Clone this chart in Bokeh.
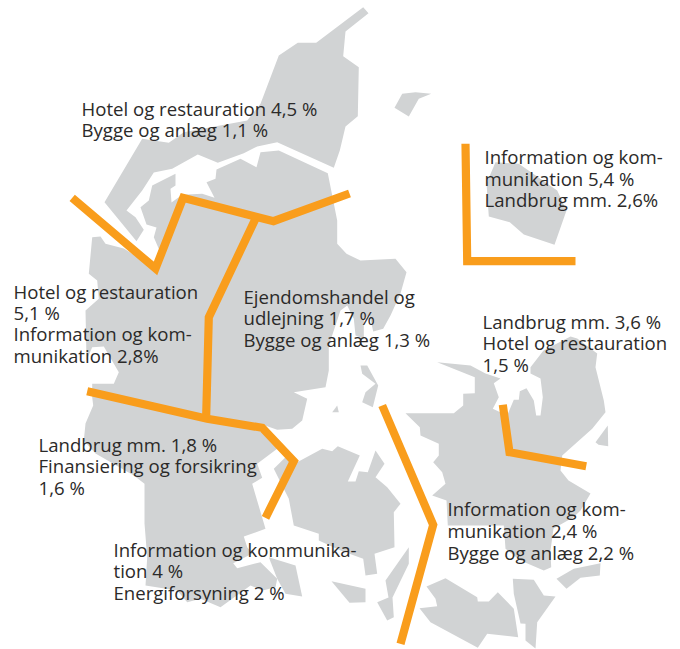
from bokeh.plotting import figure
from bokeh.embed import file_html
from bokeh.resources import INLINE
from bokeh.core.properties import value

# Map outlines (x, y of the traced coast)
vendsyssel = [(362.7,6.7),(368,12.7),(345,31),(342.7,55.7),(358.3,66.7),(357.3,115.7),(345,126),(339.3,150),(333.3,167.3),(276.7,141.7),(256.7,146),(243.3,152.7),(217.3,162.3),(197.3,154),(171.7,168.3),(153.3,172),(141.7,190),(126,210),(135,216.7),(143.3,229.3),(136,240.7),(104,201.7),(141.7,138.3),(168.3,142.3),(183.3,131.7),(246.7,120),(260,103.3),(278.3,55),(297.3,42.3),(315.7,42.3)]
jutland = [(260,151.7),(278.3,150),(327.3,172.7),(336.7,220),(336.7,243.3),(346,253.3),(360,260),(395,258.3),(406,271.7),(400,293),(390,315),(382.7,328.3),(372.7,331),(369.3,315),(363.3,317.3),(363.3,338.3),(355,335),(353.3,318.3),(346.7,305),(340,310),(333.3,330),(328.3,345),(328.3,370),(325,386.7),(293.3,391.7),(306.7,398.3),(301.7,420),(291.7,428.3),(276.7,429.3),(261.7,424),(285,450),(276.7,448.3),(256.7,463.3),(261.7,477.3),(251.7,483.3),(265,528.3),(243.3,536),(246.7,546.7),(252,553),(232.7,562.7),(236.7,567.7),(260,561.7),(276.7,578.3),(275,586.7),(262,590),(250,585),(220,606.7),(200,598.3),(186.7,601.7),(176.7,590),(145,585),(146.7,556.7),(144,523),(144,483.3),(133.3,475),(95,453),(83.3,440),(85,423),(92.7,405),(91.7,396.7),(91.7,383.3),(113.3,383.3),(118.3,371.7),(103.3,346),(91.7,346.7),(86,360),(85,310),(98.3,298.3),(96.7,280),(88.3,273.3),(91.7,236.7),(100,236),(105,243.3),(123.3,248),(155,268),(159,250),(153.3,236.7),(156,227),(146,224),(140,206.7),(148.3,200),(151.7,185),(175,173.3),(175,185),(170,188.3),(171,202),(181.7,194.3),(201.7,193.3),(214,197.3),(206,181.7),(215,178.3),(216,169),(240,158.3),(256,166.7)]
fyn = [(273.3,468.3),(285,456.7),(296.7,461.7),(321.7,448.3),(331.7,450.7),(337.3,445.7),(359.3,455),(347.3,481),(355,481),(358.3,470.7),(367.3,471.7),(375,450),(384,463.3),(375,476.7),(386.7,486.7),(400,503.3),(393.3,511.7),(394,546.7),(374,553.3),(376.7,573.3),(365,575),(362.7,558.3),(340,550),(318.3,540),(318.3,533.3),(293.3,525),(288.3,498.3)]
langeland = [(385,580),(408.3,546.7),(408.3,563.3),(392,597),(393.3,616.7),(386.7,620),(376.7,601.7),(388,597)]
aeroe = [(331,580.7),(365,588.3),(365,601.7),(349,602.3)]
als = [(268.3,556.7),(295,565),(301.7,596),(285,593.3),(276.7,578.3)]
samsoe = [(360,365),(366.7,365),(377.7,385),(372.3,406.7),(361.7,401.7),(365,391.7),(375,383.3),(361.7,373.3)]
tuno = [(336.7,405),(331.7,411.7),(338.3,411.7)]
zealand = [(405,412.7),(453.3,412.7),(462.7,405),(462.7,393.3),(474.3,392.7),(474.3,376.7),(436.7,361.7),(470,365),(485,373),(500,378),(493.3,382.7),(498.3,396.7),(492.3,408.3),(506.7,415),(513.3,399.3),(518.3,399.3),(519.3,390.7),(526,387.7),(533.3,400),(535.7,415),(540,415),(542.3,396.7),(540,378),(530,373),(530,366.7),(543,350),(570,336),(576.7,338),(596.7,353),(595,366.7),(603.3,400),(605,411.7),(591.7,428.3),(561.7,455),(560,470),(568,480),(590,493),(580,510),(573,516.7),(553,528),(550,550),(550.7,566.7),(543.3,570),(520,560),(505,548.3),(503.3,525),(447.3,525),(446,500),(431.7,495),(445,483.3),(441.7,471.7),(432.7,461.7),(438.3,455),(438.3,443.3),(420,435),(419.3,426.7)]
amager = [(607.3,425),(595,441.7),(598,444.3),(607.7,445.7)]
lolland = [(426,586),(445,577.7),(476.7,596.7),(477.3,601),(488.3,601),(497.3,591.7),(513.3,608.3),(517.7,636.7),(486.7,633.3),(477.3,647.3),(430,621.7),(419,607.7),(436.7,605.7),(435,598.3)]
falster = [(512.3,578.3),(533.3,579.3),(543.3,595),(555,596),(536.7,621.7),(535,648),(525,640),(525,623.3),(520,623),(513.3,593.3)]
moen = [(556,578.3),(573.3,568.3),(600,562.7),(599.3,575),(580,577.3),(566,588.3)]
bornholm = [(495,161.7),(518.3,163.3),(556.7,190),(566,210),(554,244.3),(523.3,234),(509.3,221.7),(488.3,216),(486,183)]
laesoe = [(401.7,93.3),(415,91.7),(430.7,93.3),(418.3,98.3),(408.3,116),(394,107.3)]
land = [vendsyssel, jutland, fyn, langeland, aeroe, als, samsoe, tuno, zealand, amager, lolland, falster, moen, bornholm, laesoe]

# Region boundaries
boundaries = [
    [(71.7,197.3),(155,268),(182.7,197.3),(273,220.7),(349,193)],
    [(255,218.3),(208.3,316.7),(205.7,415)],
    [(86.7,390.7),(206.7,418.3),(261.7,427.3),(293.3,460.7),(265,517.3)],
    [(465,143.3),(466.7,260.7),(575,260.7)],
    [(502.3,404.3),(509,451.7),(585.7,465.7)],
    [(381.7,405),(432.7,524.3),(400,643.3)],
]

# Labels: x, baseline y, text
labels = [
    (82,115,"Hotel og restauration  4,5 %"),(82,136,"Bygge og anlæg 1,1 %"),
    (485,163,"Information og kom-"),(485,185,"munikation  5,4 %"),(485,206,"Landbrug mm. 2,6%"),
    (14,298,"Hotel og restauration"),(14,319,"5,1 %"),(14,340,"Information og kom-"),(14,362,"munikation 2,8%"),
    (244,303,"Ejendomshandel og"),(244,324,"udlejning 1,7 %"),(244,346,"Bygge og anlæg 1,3 %"),
    (483,328,"Landbrug mm.  3,6 %"),(483,349,"Hotel og restauration"),(483,371,"1,5 %"),
    (39,451,"Landbrug mm. 1,8 %"),(39,472,"Finansiering og forsikring"),(39,494,"1,6 %"),
    (114,556,"Information og kommunika-"),(114,577,"tion  4 %"),(114,599,"Energiforsyning 2 %"),
    (448,515,"Information og kom-"),(448,537,"munikation 2,4 %"),(448,559,"Bygge og anlæg 2,2 %"),
]

p = figure(width=680, height=649, x_range=(0, 680), y_range=(649, 0),
           output_backend="svg", toolbar_location=None, min_border=0)
p.axis.visible = False
p.grid.visible = False
p.outline_line_color = None

p.patches([[c[0] for c in s] for s in land], [[c[1] for c in s] for s in land],
          fill_color="#d1d3d4", line_color=None)
for b in boundaries:
    p.line([c[0] for c in b], [c[1] for c in b], line_color="#f99d1c", line_width=8.2,
           line_join="miter", line_cap="butt")
p.text([l[0] for l in labels], [l[1] for l in labels], text=[l[2] for l in labels],
       text_font=value("Open Sans"), text_font_size="18.6px", text_color="#2b2a29",
       text_baseline="alphabetic", text_align="left", x_offset=-1, y_offset=-7.5)

open("out.html", "w").write(file_html(p, INLINE))
